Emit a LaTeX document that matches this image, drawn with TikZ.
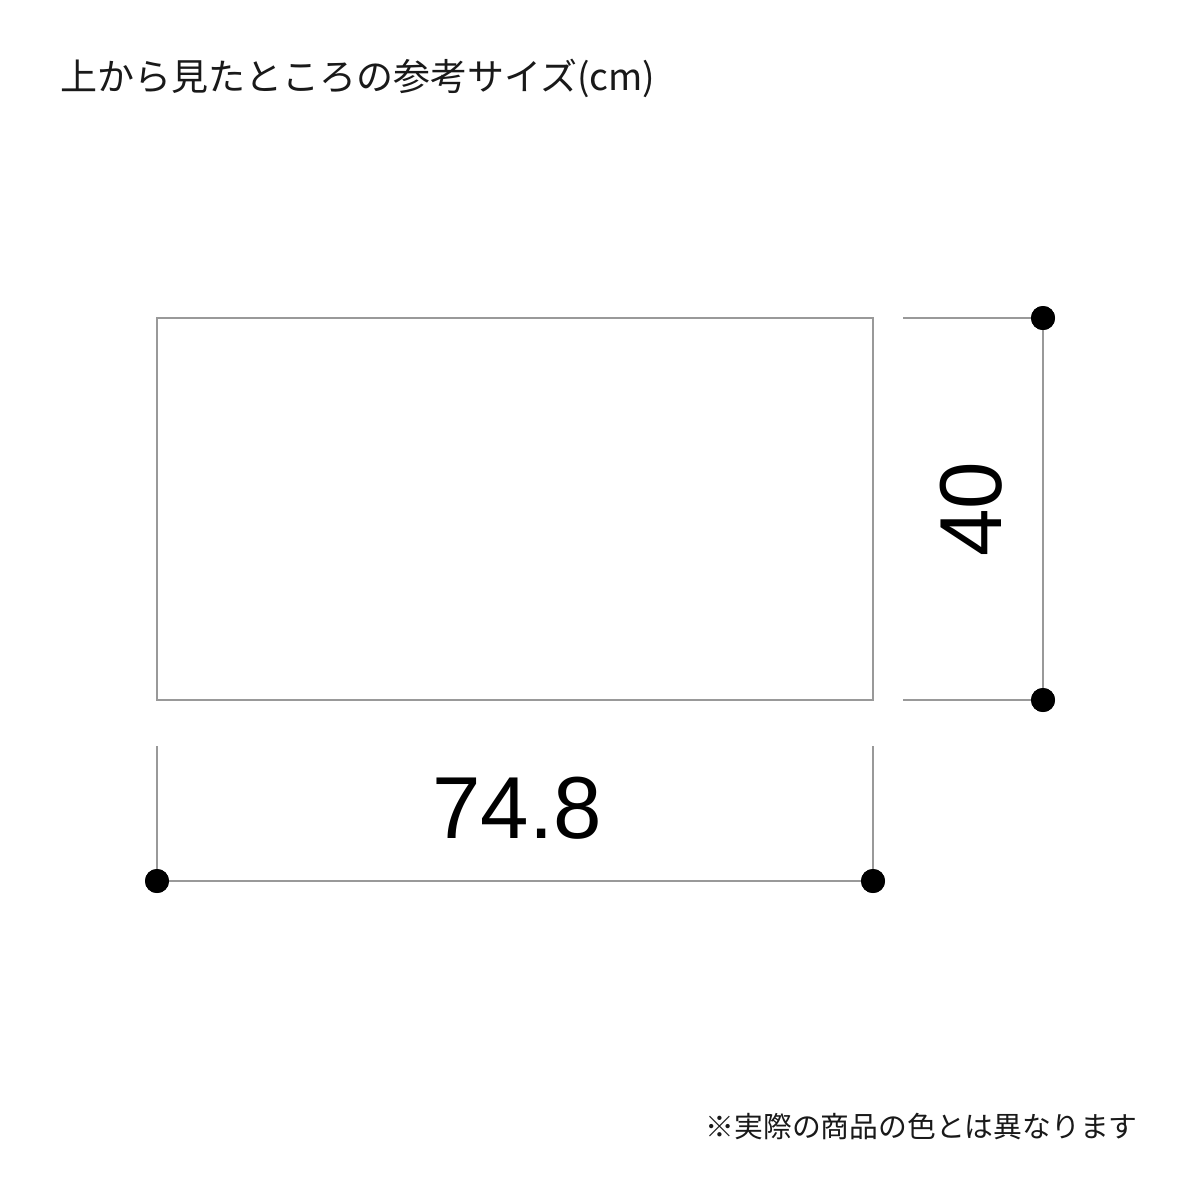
\documentclass[tikz,border=0pt]{standalone}
\usepackage{fontspec}
\newfontfamily\jpfont{Noto Sans CJK JP}
\newfontfamily\numfont{Liberation Sans}
\begin{document}
\begin{tikzpicture}[x=0.5pt,y=-0.5pt,
  dimline/.style={draw=black!40, line width=1.2pt},
  outline/.style={draw=black!40, line width=1.2pt},
  dot/.style={circle, fill=black, inner sep=0pt, minimum size=12pt},
  jptext/.style={font=\jpfont\fontsize{18.5}{20}\selectfont, text=black!90, inner sep=0pt},
  note/.style={font=\jpfont\fontsize{14.4}{16}\selectfont, text=black!90, inner sep=0pt},
  dimtext/.style={font=\numfont\fontsize{44}{48}\selectfont, inner sep=0pt}]
\useasboundingbox (0,0) rectangle (1200,1200);
\fill[white] (0,0) rectangle (1200,1200);
% title
\node[jptext, anchor=west] (title) at (60,78) {上から見たところの参考サイズ(cm)};
% top view outline
\coordinate (tl) at (157,318);
\coordinate (br) at (873,700);
\draw[outline] (tl) rectangle (br);
% right dimension
\coordinate (e1) at (903,318);
\coordinate (e2) at (903,700);
\node[dot] (d1) at (1043,318) {};
\node[dot] (d2) at (1043,700) {};
\draw[dimline] (e1) -- (d1.center);
\draw[dimline] (e2) -- (d2.center);
\draw[dimline] (d1.center) -- (d2.center);
\node[dot] (d1) at (1043,318) {};
\node[dot] (d2) at (1043,700) {};
\node[dimtext, rotate=90, xscale=0.97] (h) at (971,509) {40};
% bottom dimension
\coordinate (f1) at (157,746);
\coordinate (f2) at (873,746);
\node[dot] (b1) at (157,881) {};
\node[dot] (b2) at (873,881) {};
\draw[dimline] (f1) -- (b1.center);
\draw[dimline] (f2) -- (b2.center);
\draw[dimline] (b1.center) -- (b2.center);
\node[dot] (b1) at (157,881) {};
\node[dot] (b2) at (873,881) {};
\node[dimtext, xscale=0.99] (w) at (517,808) {74.8};
% note
\node[note, anchor=east] (nt) at (1138,1127) {※実際の商品の色とは異なります};
\end{tikzpicture}
\end{document}
